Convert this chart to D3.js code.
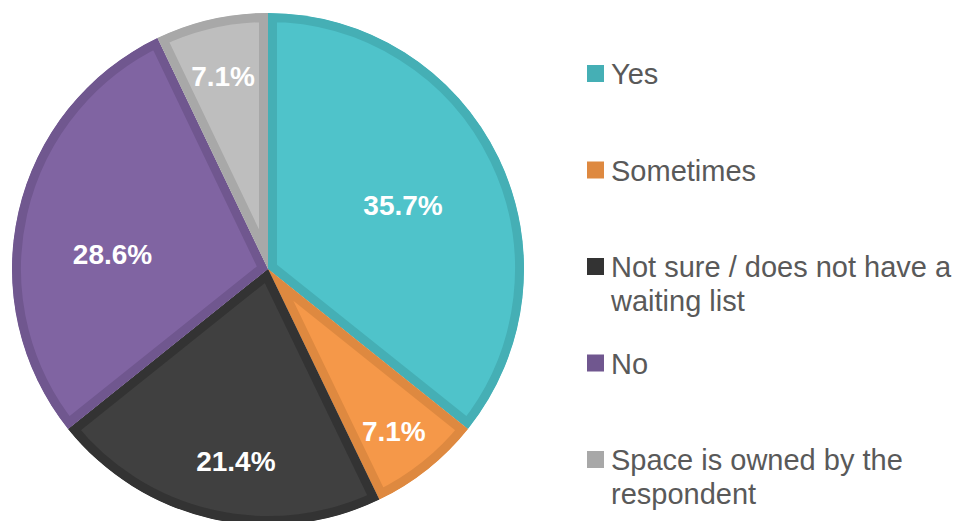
<!DOCTYPE html>
<html>
<head>
<meta charset="utf-8">
<script src="https://cdn.jsdelivr.net/npm/d3@7"></script>
<style>
  html, body { margin: 0; padding: 0; background: #fff; }
  svg { display: block; }
  text { font-family: "Liberation Sans", Arial, Helvetica, sans-serif; }
</style>
</head>
<body>
<svg id="chart" width="957" height="521"></svg>
<script>
// Survey answers and their shares (percent)
const categories = [
  "Yes",
  "Sometimes",
  "Not sure / does not have a waiting list",
  "No",
  "Space is owned by the respondent"
];
const shares = [35.7, 7.1, 21.4, 28.6, 7.1];

// Legend text, broken into lines
const legendLines = [
  ["Yes"],
  ["Sometimes"],
  ["Not sure / does not have a", "waiting list"],
  ["No"],
  ["Space is owned by the", "respondent"]
];

// Slice fill and edge colours
const fills = ["#4FC3CA", "#F59849", "#404040", "#8064A2", "#BEBEBE"];
const edges = ["#45AFB5", "#DE8940", "#333333", "#70578F", "#A8A8A8"];

// Where each percentage label sits: angle (deg, clockwise from top) and radius fraction
const labelAngles = [64.6, 142.1, 189.5, 275.5, 346.9];
const labelRadii = [0.584, 0.80, 0.76, 0.61, 0.775];

const svg = d3.select("#chart");
const cx = 268, cy = 269, radius = 256, edgeWidth = 9;

const pie = d3.pie().sort(null).value(d => d.value);
const arcs = pie(shares.map((v, i) => ({ value: v, i })));
const arc = d3.arc().innerRadius(0).outerRadius(radius);

const g = svg.append("g").attr("transform", `translate(${cx},${cy})`);
const defs = svg.append("defs");

arcs.forEach((a, i) => {
  defs.append("clipPath").attr("id", "slice-clip-" + i)
    .append("path").attr("d", arc(a));
});

// Each slice gets an inner border in a darker shade of its fill
g.selectAll("path.slice")
  .data(arcs)
  .join("path")
  .attr("class", "slice")
  .attr("d", arc)
  .attr("fill", (d, i) => fills[i])
  .attr("stroke", (d, i) => edges[i])
  .attr("stroke-width", edgeWidth * 2)
  .attr("stroke-linejoin", "miter")
  .attr("clip-path", (d, i) => `url(#slice-clip-${i})`);

// Percentage labels
g.selectAll("text.pct")
  .data(arcs)
  .join("text")
  .attr("class", "pct")
  .attr("x", (d, i) => Math.sin(labelAngles[i] * Math.PI / 180) * radius * labelRadii[i])
  .attr("y", (d, i) => -Math.cos(labelAngles[i] * Math.PI / 180) * radius * labelRadii[i])
  .attr("dy", "0.36em")
  .attr("text-anchor", "middle")
  .attr("fill", "#fff")
  .attr("font-weight", "bold")
  .attr("font-size", 28)
  .text((d, i) => shares[i].toFixed(1) + "%");

// Legend
const legendX = 587, firstBaseline = 84, entryStep = 96.5, lineStep = 34;
const legend = svg.append("g");
legendLines.forEach((lines, i) => {
  const base = firstBaseline + i * entryStep;
  legend.append("rect")
    .attr("x", legendX)
    .attr("y", base - 19)
    .attr("width", 17)
    .attr("height", 17)
    .attr("fill", edges[i]);
  const t = legend.append("text")
    .attr("x", legendX + 24)
    .attr("y", base)
    .attr("fill", "#595959")
    .attr("font-size", 29);
  lines.forEach((ln, j) => {
    t.append("tspan")
      .attr("x", legendX + 24)
      .attr("y", base + j * lineStep)
      .text(ln);
  });
});
</script>
</body>
</html>
